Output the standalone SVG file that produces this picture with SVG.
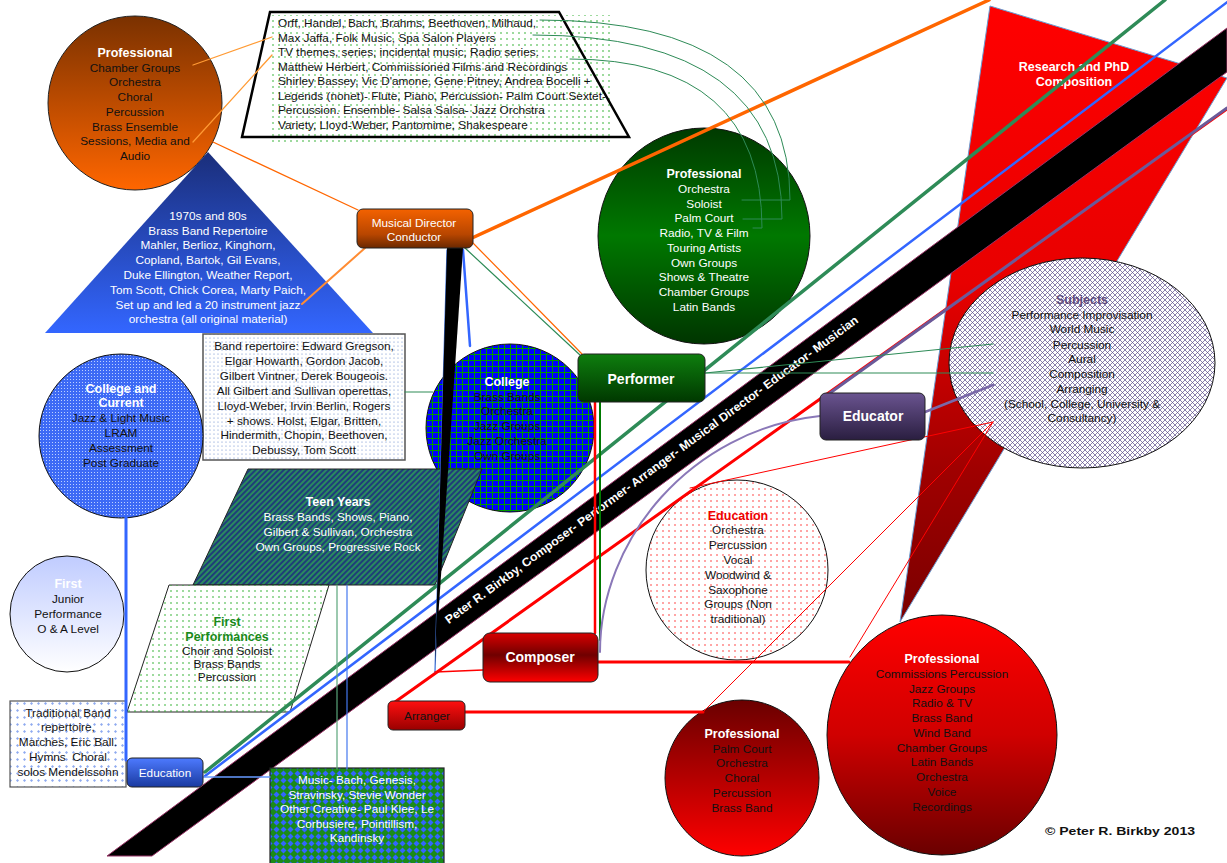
<svg xmlns="http://www.w3.org/2000/svg" width="1227" height="863" viewBox="0 0 1227 863">
<defs>
<style>
.t{font-family:'Liberation Sans',Arial,sans-serif;font-size:11.8px;text-anchor:middle;fill:#111}
.w{fill:#fff}
.b{font-weight:bold;font-size:12.5px}
.bb{font-weight:bold;font-size:14px}
.l{text-anchor:start}
</style>
<linearGradient id="gOrange" x1="0" y1="0" x2="0" y2="1"><stop offset="0" stop-color="#7a3100"/><stop offset="1" stop-color="#ff6600"/></linearGradient>
<linearGradient id="gMD" x1="0" y1="0" x2="0" y2="1"><stop offset="0" stop-color="#f46200"/><stop offset="0.65" stop-color="#b84600"/><stop offset="1" stop-color="#6a2800"/></linearGradient>
<linearGradient id="gTri" x1="0" y1="0" x2="0" y2="1"><stop offset="0" stop-color="#1a2e7a"/><stop offset="1" stop-color="#3366ff"/></linearGradient>
<linearGradient id="gGreen" x1="0" y1="0" x2="0" y2="1"><stop offset="0" stop-color="#003a00"/><stop offset="0.5" stop-color="#007800"/><stop offset="1" stop-color="#003500"/></linearGradient>
<linearGradient id="gPerf" x1="0" y1="0" x2="0" y2="1"><stop offset="0" stop-color="#0e7e0e"/><stop offset="1" stop-color="#003800"/></linearGradient>
<linearGradient id="gEduc" x1="0" y1="0" x2="0" y2="1"><stop offset="0" stop-color="#6a5490"/><stop offset="1" stop-color="#2a1e40"/></linearGradient>
<linearGradient id="gComp" x1="0" y1="0" x2="0" y2="1"><stop offset="0" stop-color="#d80000"/><stop offset="0.45" stop-color="#700000"/><stop offset="1" stop-color="#ff0000"/></linearGradient>
<linearGradient id="gArr" x1="0" y1="0" x2="0" y2="1"><stop offset="0" stop-color="#ff1010"/><stop offset="1" stop-color="#990000"/></linearGradient>
<linearGradient id="gEduBox" x1="0" y1="0" x2="0" y2="1"><stop offset="0" stop-color="#4d7aff"/><stop offset="1" stop-color="#1a3aa0"/></linearGradient>
<linearGradient id="gBigRed" x1="0" y1="0" x2="0" y2="1"><stop offset="0" stop-color="#ff0000"/><stop offset="0.5" stop-color="#d00000"/><stop offset="1" stop-color="#6a0000"/></linearGradient>
<linearGradient id="gSmallRed" x1="0" y1="0" x2="0" y2="1"><stop offset="0" stop-color="#6a0000"/><stop offset="1" stop-color="#ff0000"/></linearGradient>
<linearGradient id="gRes" x1="0" y1="0" x2="0" y2="1"><stop offset="0" stop-color="#ff0000"/><stop offset="0.45" stop-color="#e80000"/><stop offset="0.75" stop-color="#a00000"/><stop offset="1" stop-color="#7a0000"/></linearGradient>
<linearGradient id="gFirst" x1="0" y1="0" x2="0" y2="1"><stop offset="0" stop-color="#c0ccff"/><stop offset="1" stop-color="#ffffff"/></linearGradient>
<pattern id="pDotG" width="6" height="6" patternUnits="userSpaceOnUse"><circle cx="3" cy="3" r="0.8" fill="#22aa22"/></pattern>
<pattern id="pDotR" width="6" height="6" patternUnits="userSpaceOnUse"><rect width="6" height="6" fill="#fff"/><circle cx="3" cy="3" r="0.8" fill="#ff3333"/></pattern>
<pattern id="pDotB" width="4" height="4" patternUnits="userSpaceOnUse"><rect width="4" height="4" fill="#fff"/><circle cx="2" cy="2" r="0.6" fill="#6688cc"/></pattern>
<pattern id="pTrad" width="7" height="7" patternUnits="userSpaceOnUse"><rect width="7" height="7" fill="#fff"/><path d="M2,3.5 L3.5,2 L5,3.5 L3.5,5Z" fill="#8eaaf0"/></pattern>
<pattern id="pCross" width="5" height="5" patternUnits="userSpaceOnUse"><rect width="5" height="5" fill="#fff"/><path d="M0,0 L5,5 M5,0 L0,5" stroke="#5a4a8a" stroke-width="0.7"/></pattern>
<pattern id="pGrid" width="6" height="6" patternUnits="userSpaceOnUse"><rect width="6" height="6" fill="#0000ff"/><path d="M0,0.5 H6 M0.5,0 V6" stroke="#009900" stroke-width="1"/></pattern>
<pattern id="pCC" width="3" height="3" patternUnits="userSpaceOnUse"><rect width="3" height="3" fill="#3d6af5"/><rect x="1" y="1" width="1" height="1" fill="#bcd0ff"/></pattern>
<pattern id="pMusic" width="7" height="7" patternUnits="userSpaceOnUse"><rect width="7" height="7" fill="#1a8a1a"/><path d="M3.5,0.5 L6.5,3.5 L3.5,6.5 L0.5,3.5Z" fill="#3366ff"/></pattern>
<pattern id="pTeen" width="4" height="4" patternUnits="userSpaceOnUse" patternTransform="rotate(45)"><rect width="4" height="4" fill="#2a8a5e"/><rect width="2" height="4" fill="#1f3c7a"/></pattern>
</defs>
<rect width="1227" height="863" fill="#fff"/>

<g id="research">
<polygon points="990,6 1227,78 900,622" fill="url(#gRes)" stroke="#6a9ad0" stroke-width="1"/>
<text class="t w b" x="1074" y="71">Research and PhD</text>
<text class="t w b" x="1074" y="86">Composition</text>
</g>

<g id="band">
<polygon points="107,856 152,856 1227,72 1227,28" fill="#000" stroke="#993366" stroke-width="1"/>
<text class="t w" font-weight="bold" font-size="13.5" transform="translate(651,469) rotate(-36.4)" x="0" y="5" textLength="510" lengthAdjust="spacingAndGlyphs">Peter R. Birkby, Composer- Performer- Arranger- Musical Director- Educator- Musician</text>
</g>

<g id="trapezoid">
<polygon points="270,12 559,12 629,137 242,137" fill="#fff"/>
<rect x="272" y="15" width="340" height="131" fill="url(#pDotG)"/>
<polygon points="270,12 559,12 629,137 242,137" fill="none" stroke="#000" stroke-width="2.5"/>
<text class="t l" x="278" y="27">Orff, Handel, Bach, Brahms, Beethoven, Milhaud,</text>
<text class="t l" x="278" y="41.5">Max Jaffa, Folk Music, Spa Salon Players</text>
<text class="t l" x="278" y="56">TV themes, series, incidental music, Radio series.</text>
<text class="t l" x="278" y="70.5">Matthew Herbert, Commissioned Films and Recordings</text>
<text class="t l" x="278" y="85">Shirley Bassey, Vic D'amone, Gene Pitney, Andrea Bocelli +</text>
<text class="t l" x="278" y="99.5">Legends (nonet)- Flute, Piano, Percussion- Palm Court Sextet-</text>
<text class="t l" x="278" y="114">Percussion. Ensemble- Salsa Salsa- Jazz Orchstra</text>
<text class="t l" x="278" y="128.5">Variety, Lloyd-Weber, Pantomime, Shakespeare</text>
</g>

<g id="orange-professional">
<circle cx="135" cy="103" r="87" fill="url(#gOrange)" stroke="#222" stroke-width="1"/>
<text class="t w b" x="135" y="57">Professional</text>
<text class="t" x="135" y="72">Chamber Groups</text>
<text class="t" x="135" y="86">Orchestra</text>
<text class="t" x="135" y="101">Choral</text>
<text class="t" x="135" y="116">Percussion</text>
<text class="t" x="135" y="131">Brass Ensemble</text>
<text class="t" x="135" y="145">Sessions, Media and</text>
<text class="t" x="135" y="160">Audio</text>
</g>

<g id="triangle-1970s">
<polygon points="208,152 373,333 45,333" fill="url(#gTri)"/>
<text class="t w" x="208" y="220">1970s and 80s</text>
<text class="t w" x="208" y="235">Brass Band Repertoire</text>
<text class="t w" x="208" y="249">Mahler, Berlioz, Kinghorn,</text>
<text class="t w" x="208" y="264">Copland, Bartok, Gil Evans,</text>
<text class="t w" x="208" y="279">Duke Ellington, Weather Report,</text>
<text class="t w" x="208" y="294">Tom Scott, Chick Corea, Marty Paich,</text>
<text class="t w" x="208" y="309">Set up and led a 20 instrument jazz</text>
<text class="t w" x="208" y="323">orchestra (all original material)</text>
</g>

<g id="green-professional">
<ellipse cx="704" cy="236" rx="106" ry="108" fill="url(#gGreen)" stroke="#111" stroke-width="1"/>
<text class="t w b" x="704" y="178">Professional</text>
<text class="t w" x="704" y="193">Orchestra</text>
<text class="t w" x="704" y="208">Soloist</text>
<text class="t w" x="704" y="222">Palm Court</text>
<text class="t w" x="704" y="237">Radio, TV &amp; Film</text>
<text class="t w" x="704" y="252">Touring Artists</text>
<text class="t w" x="704" y="267">Own Groups</text>
<text class="t w" x="704" y="281">Shows &amp; Theatre</text>
<text class="t w" x="704" y="296">Chamber Groups</text>
<text class="t w" x="704" y="311">Latin Bands</text>
</g>

<g id="band-repertoire">
<rect x="203" y="334" width="202" height="126" fill="url(#pDotB)" stroke="#555" stroke-width="1.5"/>
<text class="t" x="304" y="350">Band repertoire: Edward Gregson,</text>
<text class="t" x="304" y="365">Elgar Howarth, Gordon Jacob,</text>
<text class="t" x="304" y="380">Gilbert Vintner, Derek Bougeois.</text>
<text class="t" x="304" y="395">All Gilbert and Sullivan operettas,</text>
<text class="t" x="304" y="410">Lloyd-Weber, Irvin Berlin, Rogers</text>
<text class="t" x="304" y="425">+ shows. Holst, Elgar, Britten,</text>
<text class="t" x="304" y="439">Hindermith, Chopin, Beethoven,</text>
<text class="t" x="304" y="454">Debussy, Tom Scott</text>
</g>

<g id="college">
<circle cx="510" cy="428" r="84" fill="url(#pGrid)" stroke="#111" stroke-width="1"/>
<text class="t w b" x="507" y="386">College</text>
<text class="t" x="507" y="401">Brass Bands</text>
<text class="t" x="507" y="415">Orchestra</text>
<text class="t" x="507" y="430">Jazz Groups</text>
<text class="t" x="507" y="445">Jazz Orchestra</text>
<text class="t" x="507" y="460">Own Groups</text>
</g>

<g id="college-current">
<circle cx="121" cy="436" r="82" fill="url(#pCC)" stroke="#111" stroke-width="1"/>
<text class="t w b" x="121" y="393">College and</text>
<text class="t w b" x="121" y="407">Current</text>
<text class="t" x="121" y="422">Jazz &amp; Light Music</text>
<text class="t" x="121" y="437">LRAM</text>
<text class="t" x="121" y="452">Assessment</text>
<text class="t" x="121" y="467">Post Graduate</text>
</g>

<g id="first">
<ellipse cx="67" cy="614" rx="57" ry="58" fill="url(#gFirst)" stroke="#111" stroke-width="1"/>
<text class="t w b" x="68" y="588">First</text>
<text class="t" x="68" y="603">Junior</text>
<text class="t" x="68" y="618">Performance</text>
<text class="t" x="68" y="633">O &amp; A Level</text>
</g>

<g id="teen-years">
<polygon points="248,469 482,469 435,585 193,585" fill="url(#pTeen)" stroke="#222" stroke-width="1"/>
<text class="t w b" x="338" y="506">Teen Years</text>
<text class="t w" x="338" y="521">Brass Bands, Shows, Piano,</text>
<text class="t w" x="338" y="536">Gilbert &amp; Sullivan, Orchestra</text>
<text class="t w" x="338" y="551">Own Groups, Progressive Rock</text>
</g>

<g id="first-performances">
<polygon points="169,585 329,585 290,712 127,712" fill="#fff" stroke="#222" stroke-width="1"/>
<polygon points="169,585 329,585 290,712 127,712" fill="url(#pDotG)"/>
<text class="t b" x="227" y="626" style="fill:#1a8a1a">First</text>
<text class="t b" x="227" y="641" style="fill:#1a8a1a">Performances</text>
<text class="t" x="227" y="655" font-size="10.5">Choir and Soloist</text>
<text class="t" x="227" y="668" font-size="10.5">Brass Bands</text>
<text class="t" x="227" y="681" font-size="10.5">Percussion</text>
</g>

<g id="traditional-band">
<rect x="10" y="701" width="116" height="86" fill="url(#pTrad)" stroke="#555" stroke-width="1.2"/>
<text class="t" x="68" y="717" font-size="11">Traditional Band</text>
<text class="t" x="68" y="731" font-size="11">repertoire,</text>
<text class="t" x="68" y="746" font-size="11">Marches, Eric Ball.</text>
<text class="t" x="68" y="761" font-size="11" xml:space="preserve">Hymns  Choral</text>
<text class="t" x="68" y="776" font-size="11">solos Mendelssohn</text>
</g>

<g id="music-box">
<rect x="270" y="768" width="174" height="100" fill="url(#pMusic)" stroke="#222" stroke-width="1.2"/>
<text class="t w" x="357" y="784">Music- Bach, Genesis,</text>
<text class="t w" x="357" y="799">Stravinsky, Stevie Wonder</text>
<text class="t w" x="357" y="813">Other Creative- Paul Klee, Le</text>
<text class="t w" x="357" y="828">Corbusiere, Pointillism,</text>
<text class="t w" x="357" y="842">Kandinsky</text>
</g>

<g id="subjects">
<ellipse cx="1082" cy="363" rx="133" ry="105" fill="url(#pCross)" stroke="#111" stroke-width="1"/>
<text class="t b" x="1082" y="304" style="fill:#5e4a7e">Subjects</text>
<text class="t" x="1082" y="319">Performance Improvisation</text>
<text class="t" x="1082" y="333">World Music</text>
<text class="t" x="1082" y="349">Percussion</text>
<text class="t" x="1082" y="363">Aural</text>
<text class="t" x="1082" y="378">Composition</text>
<text class="t" x="1082" y="393">Arranging</text>
<text class="t" x="1082" y="408">(School, College, University &amp;</text>
<text class="t" x="1082" y="422">Consultancy)</text>
</g>

<g id="education-circle">
<ellipse cx="737" cy="570" rx="91" ry="90" fill="url(#pDotR)" stroke="#111" stroke-width="1"/>
<text class="t b" x="738" y="520" style="fill:#ee0000">Education</text>
<text class="t" x="738" y="534">Orchestra</text>
<text class="t" x="738" y="549">Percussion</text>
<text class="t" x="738" y="564">Vocal</text>
<text class="t" x="738" y="579">Woodwind &amp;</text>
<text class="t" x="738" y="594">Saxophone</text>
<text class="t" x="738" y="608">Groups (Non</text>
<text class="t" x="738" y="623">traditional)</text>
</g>

<g id="big-red-professional">
<ellipse cx="942" cy="735" rx="115" ry="120" fill="url(#gBigRed)" stroke="#111" stroke-width="1"/>
<text class="t w b" x="942" y="663">Professional</text>
<text class="t" x="942" y="678">Commissions Percussion</text>
<text class="t" x="942" y="693">Jazz Groups</text>
<text class="t" x="942" y="707">Radio &amp; TV</text>
<text class="t" x="942" y="722">Brass Band</text>
<text class="t" x="942" y="737">Wind Band</text>
<text class="t" x="942" y="752">Chamber Groups</text>
<text class="t" x="942" y="766">Latin Bands</text>
<text class="t" x="942" y="781">Orchestra</text>
<text class="t" x="942" y="796">Voice</text>
<text class="t" x="942" y="811">Recordings</text>
</g>

<g id="small-red-professional">
<ellipse cx="742" cy="778" rx="77" ry="78" fill="url(#gSmallRed)" stroke="#111" stroke-width="1"/>
<text class="t w b" x="742" y="738">Professional</text>
<text class="t" x="742" y="753">Palm Court</text>
<text class="t" x="742" y="767">Orchestra</text>
<text class="t" x="742" y="782">Choral</text>
<text class="t" x="742" y="797">Percussion</text>
<text class="t" x="742" y="812">Brass Band</text>
</g>

<g id="connectors" fill="none" stroke-linecap="round">
<line x1="472" y1="238" x2="989" y2="0" stroke="#ff6600" stroke-width="3.5"/>
<line x1="205" y1="772" x2="1165" y2="0" stroke="#2e8b57" stroke-width="3.5"/>
<line x1="205" y1="776" x2="1230" y2="0" stroke="#3366ff" stroke-width="2.5"/>
<line x1="395" y1="702" x2="1227" y2="109" stroke="#ff0000" stroke-width="3"/>
<line x1="830" y1="393" x2="1227" y2="108" stroke="#6a5a9a" stroke-width="3"/>
<line x1="193" y1="65" x2="272" y2="37" stroke="#ff9a33" stroke-width="1.3"/>
<line x1="193" y1="142" x2="272" y2="55" stroke="#ff9a33" stroke-width="1.3"/>
<line x1="213" y1="142" x2="358" y2="210" stroke="#ff6600" stroke-width="1.3"/>
<line x1="365" y1="248" x2="302" y2="304" stroke="#ff8c33" stroke-width="2"/>
<line x1="472" y1="242" x2="582" y2="354" stroke="#ff6600" stroke-width="1.2"/>
<line x1="465" y1="248" x2="580" y2="355" stroke="#2e8b57" stroke-width="1.2"/>
<line x1="463" y1="250" x2="470" y2="346" stroke="#3366ff" stroke-width="2.5"/>
<line x1="447" y1="250" x2="435" y2="672" stroke="#4477dd" stroke-width="1.3"/>
<line x1="435" y1="672" x2="483" y2="670" stroke="#ff0000" stroke-width="1.5"/>
<line x1="405" y1="392" x2="433" y2="392" stroke="#2e8b57" stroke-width="1.2"/>
<path d="M540,20 Q790,20 790,200 L742,200" stroke="#2e8b57" stroke-width="1"/>
<path d="M533,35 Q782,35 782,219 L743,219" stroke="#2e8b57" stroke-width="1"/>
<path d="M570,59 Q762,59 762,228 L753,228" stroke="#2e8b57" stroke-width="1"/>
<line x1="595" y1="402" x2="595" y2="633" stroke="#ff0000" stroke-width="2.5"/>
<line x1="600" y1="402" x2="600" y2="640" stroke="#007a00" stroke-width="2"/>
<line x1="705" y1="373" x2="993" y2="344" stroke="#2e8b57" stroke-width="1.2"/>
<line x1="705" y1="373" x2="993" y2="373" stroke="#2e8b57" stroke-width="1.2"/>
<path d="M600,652 C600,540 690,430 820,416" stroke="#8a78b8" stroke-width="2"/>
<line x1="925" y1="412" x2="993" y2="385" stroke="#7a68a8" stroke-width="2.5"/>
<line x1="690" y1="488" x2="993" y2="422" stroke="#ff0000" stroke-width="1"/>
<line x1="703" y1="712" x2="993" y2="422" stroke="#ff0000" stroke-width="1"/>
<line x1="850" y1="657" x2="993" y2="422" stroke="#ff0000" stroke-width="1"/>
<line x1="597" y1="662" x2="849" y2="662" stroke="#ff0000" stroke-width="3"/>
<line x1="465" y1="712" x2="703" y2="712" stroke="#ff0000" stroke-width="3"/>
<line x1="126" y1="517" x2="126" y2="760" stroke="#3366ff" stroke-width="3"/>
<line x1="203" y1="777" x2="270" y2="777" stroke="#6699ff" stroke-width="1.5"/>
<line x1="337" y1="585" x2="337" y2="769" stroke="#5aa57a" stroke-width="1.2"/>
<line x1="347" y1="585" x2="347" y2="769" stroke="#4477ee" stroke-width="1.2"/>
</g>

<g id="wedge">
<polygon points="447,248 463,248 435,665" fill="#000"/>
</g>

<g id="musical-director">
<rect x="357" y="209" width="116" height="39" rx="6" fill="url(#gMD)" stroke="#222" stroke-width="1"/>
<text class="t w" x="414" y="227">Musical Director</text>
<text class="t w" x="414" y="241">Conductor</text>
</g>

<g id="performer">
<rect x="578" y="354" width="127" height="48" rx="6" fill="url(#gPerf)" stroke="#222" stroke-width="1"/>
<text class="t w bb" x="641" y="384">Performer</text>
</g>

<g id="educator">
<rect x="820" y="393" width="105" height="47" rx="6" fill="url(#gEduc)" stroke="#222" stroke-width="1"/>
<text class="t w bb" x="873" y="421">Educator</text>
</g>

<g id="composer">
<rect x="483" y="633" width="115" height="49" rx="7" fill="url(#gComp)" stroke="#222" stroke-width="1"/>
<text class="t w bb" x="540" y="662">Composer</text>
</g>

<g id="arranger">
<rect x="388" y="701" width="77" height="29" rx="5" fill="url(#gArr)" stroke="#222" stroke-width="1"/>
<text class="t" x="427" y="720" font-size="12">Arranger</text>
</g>

<g id="education-box">
<rect x="127" y="758" width="76" height="29" rx="5" fill="url(#gEduBox)" stroke="#222" stroke-width="1"/>
<text class="t w" x="165" y="777" font-size="12">Education</text>
</g>

<text class="t l" x="1045" y="835" font-weight="bold" font-size="13.5" textLength="150" lengthAdjust="spacingAndGlyphs">© Peter R. Birkby 2013</text>
</svg>
